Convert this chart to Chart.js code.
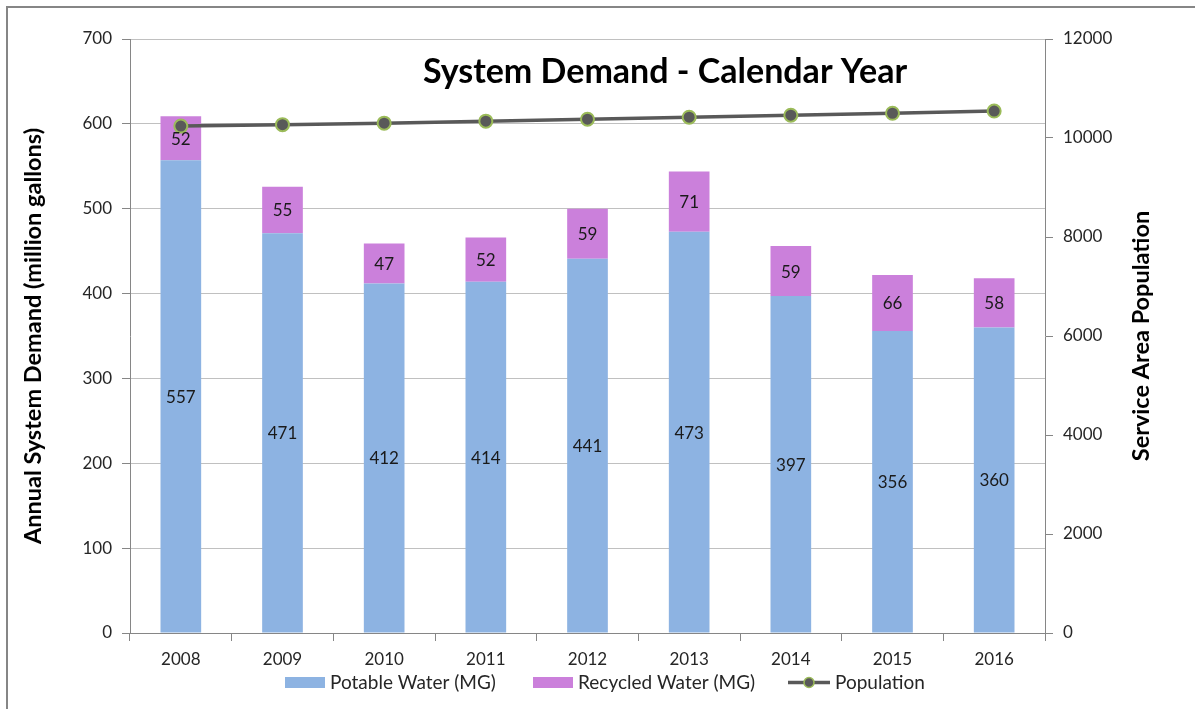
<!DOCTYPE html>
<html>
<head>
<meta charset="utf-8">
<script src="https://cdn.jsdelivr.net/npm/chart.js@4/dist/chart.umd.min.js"></script>
<style>
  html, body { margin: 0; padding: 0; background: #fff; }
  #wrap { width: 1195px; height: 709px; position: relative; }
</style>
</head>
<body>
<div id="wrap"><canvas id="myChart" width="1195" height="709"></canvas></div>
<script>
const years = ['2008', '2009', '2010', '2011', '2012', '2013', '2014', '2015', '2016'];
const potable = [557, 471, 412, 414, 441, 473, 397, 356, 360];
const recycled = [52, 55, 47, 52, 59, 71, 59, 66, 58];
const population = [10240, 10270, 10300, 10340, 10380, 10420, 10460, 10500, 10545];

const FONT = 'Lato, "Open Sans", sans-serif';
const blue = '#8DB3E2';
const purple = '#CB80DB';
const lineGrey = '#595959';
const green = '#9BBB59';

// title, axis titles, value labels, legend and outer frame
const extras = {
    id: 'extras',
    afterDatasetsDraw(chart) {
        const ctx = chart.ctx;
        ctx.save();
        ctx.font = '17px ' + FONT;
        ctx.fillStyle = '#1a1a1a';
        ctx.textAlign = 'center';
        ctx.textBaseline = 'middle';
        [0, 1].forEach(i => {
            chart.getDatasetMeta(i).data.forEach((bar, j) => {
                const v = chart.data.datasets[i].data[j];
                ctx.fillText(v, bar.x, (bar.y + bar.base) / 2 + 1);
            });
        });
        ctx.restore();
    },
    afterDraw(chart) {
        const ctx = chart.ctx;
        const area = chart.chartArea;
        const midY = (area.top + area.bottom) / 2;
        ctx.save();
        ctx.fillStyle = '#000';
        ctx.textAlign = 'center';
        ctx.textBaseline = 'middle';
        ctx.font = 'bold 34px ' + FONT;
        ctx.fillText('System Demand - Calendar Year', 665, 72);

        // axis titles, both reading bottom to top
        ctx.font = 'bold 23.5px ' + FONT;
        [[33, 'Annual System Demand (million gallons)'], [1141, 'Service Area Population']].forEach(([x, t]) => {
            ctx.save();
            ctx.translate(x, midY);
            ctx.rotate(-Math.PI / 2);
            ctx.fillText(t, 0, 0);
            ctx.restore();
        });

        // legend
        const ly = 682.5;
        ctx.font = '19px ' + FONT;
        ctx.textAlign = 'left';
        const items = [
            { label: 'Potable Water (MG)', color: blue, x: 285, tx: 330 },
            { label: 'Recycled Water (MG)', color: purple, x: 533, tx: 578 },
            { label: 'Population', line: true, x: 788, tx: 835 }
        ];
        items.forEach(it => {
            if (it.line) {
                ctx.strokeStyle = lineGrey;
                ctx.lineWidth = 3.5;
                ctx.beginPath(); ctx.moveTo(it.x, ly); ctx.lineTo(it.x + 42, ly); ctx.stroke();
                ctx.beginPath(); ctx.arc(it.x + 21, ly, 5, 0, Math.PI * 2);
                ctx.fillStyle = lineGrey; ctx.fill();
                ctx.lineWidth = 1.5; ctx.strokeStyle = green; ctx.stroke();
            } else {
                ctx.fillStyle = it.color;
                ctx.fillRect(it.x, ly - 5.5, 40, 11);
            }
            ctx.fillStyle = '#262626';
            ctx.fillText(it.label, it.tx, ly);
        });

        ctx.strokeStyle = '#868686';
        ctx.lineWidth = 2;
        ctx.strokeRect(7, 7, 1200, 720);
        ctx.restore();
    }
};

const ctx = document.getElementById('myChart').getContext('2d');
const myChart = new Chart(ctx, {
    type: 'bar',
    data: {
        labels: years,
        datasets: [
            {
                label: 'Potable Water (MG)',
                data: potable,
                backgroundColor: blue,
                yAxisID: 'y',
                order: 2,
                barPercentage: 0.4,
                categoryPercentage: 1
            },
            {
                label: 'Recycled Water (MG)',
                data: recycled,
                backgroundColor: purple,
                yAxisID: 'y',
                order: 2,
                barPercentage: 0.4,
                categoryPercentage: 1
            },
            {
                type: 'line',
                label: 'Population',
                data: population,
                yAxisID: 'y1',
                order: 0,
                borderColor: lineGrey,
                borderWidth: 3.5,
                pointRadius: 6.5,
                pointBackgroundColor: lineGrey,
                pointBorderColor: green,
                pointBorderWidth: 2,
                tension: 0
            }
        ]
    },
    options: {
        responsive: false,
        animation: false,
        layout: { padding: { top: 39, bottom: 38, left: 0, right: 0 } },
        plugins: {
            tooltip: { enabled: false },
            legend: { display: false }
        },
        scales: {
            x: {
                stacked: true,
                grid: {
                    offset: true,
                    drawOnChartArea: false,
                    tickLength: 8,
                    tickColor: '#868686'
                },
                border: { color: '#868686', width: 1 },
                ticks: { color: '#262626', font: { family: FONT, size: 17 }, padding: 8 },
                afterFit(scale) { scale.height = 38; }
            },
            y: {
                stacked: true,
                position: 'left',
                min: 0,
                max: 700,
                ticks: { stepSize: 100, color: '#262626', font: { family: FONT, size: 17 }, padding: 10 },
                grid: { color: '#c0c0c0', tickLength: 8, tickColor: '#868686' },
                border: { color: '#868686' },
                afterFit(scale) { scale.width = 130; }
            },
            y1: {
                position: 'right',
                min: 0,
                max: 12000,
                ticks: {
                    stepSize: 2000,
                    color: '#262626',
                    font: { family: FONT, size: 17 },
                    padding: 10,
                    callback: v => String(v)
                },
                grid: { drawOnChartArea: false, tickLength: 8, tickColor: '#868686' },
                border: { color: '#868686' },
                afterFit(scale) { scale.width = 150; }
            }
        }
    },
    plugins: [extras]
});
</script>
</body>
</html>
